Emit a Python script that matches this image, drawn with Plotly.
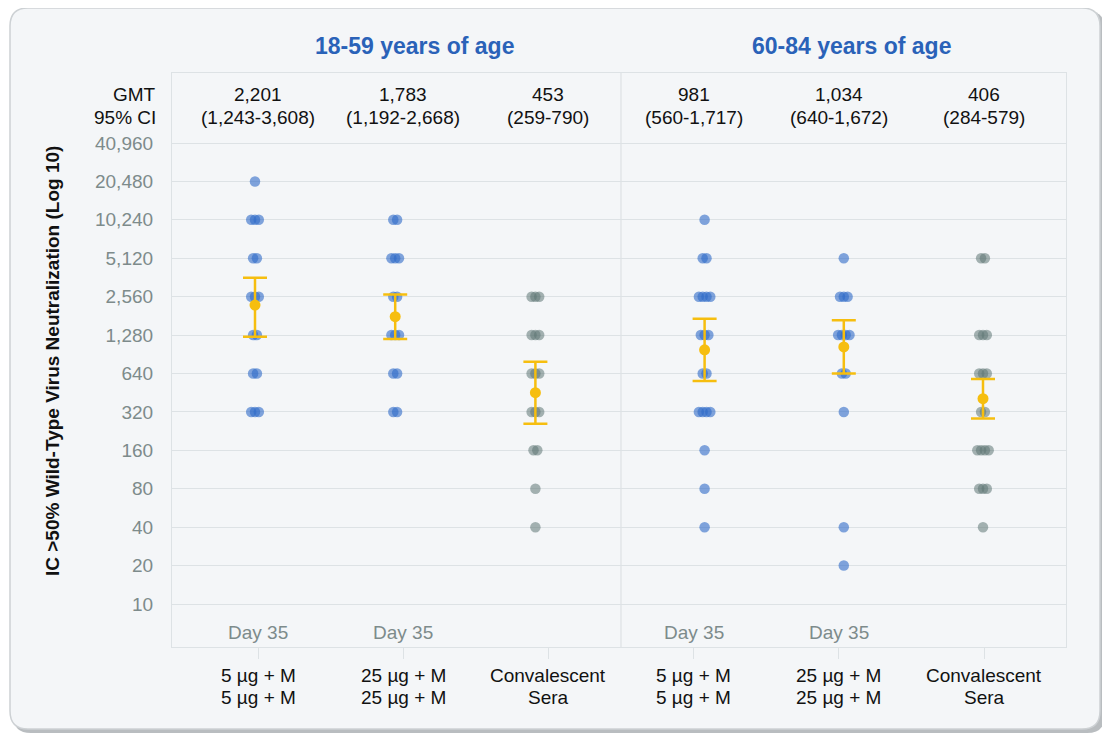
import plotly.graph_objects as go
import math

# ---------------- data ----------------
group_titles = ["18-59 years of age", "60-84 years of age"]
cat_line1 = ["5 µg + M", "25 µg + M", "Convalescent", "5 µg + M", "25 µg + M", "Convalescent"]
cat_line2 = ["5 µg + M", "25 µg + M", "Sera", "5 µg + M", "25 µg + M", "Sera"]
visit_labels = ["Day 35", "Day 35", "", "Day 35", "Day 35", ""]
is_convalescent = [False, False, True, False, False, True]

gmt = [2201, 1783, 453, 981, 1034, 406]
ci_low = [1243, 1192, 259, 560, 640, 284]
ci_high = [3608, 2668, 790, 1717, 1672, 579]
gmt_text = ["2,201", "1,783", "453", "981", "1,034", "406"]
ci_text = ["(1,243-3,608)", "(1,192-2,668)", "(259-790)", "(560-1,717)", "(640-1,672)", "(284-579)"]

titers_18_59_5ug = [20480, 10240, 10240, 10240, 5120, 5120, 2560, 2560, 2560,
                    1280, 1280, 640, 640, 320, 320, 320]
titers_18_59_25ug = [10240, 10240, 5120, 5120, 5120, 2560, 2560, 1280, 1280, 1280,
                     640, 640, 320, 320]
titers_18_59_conv = [2560, 2560, 2560, 1280, 1280, 1280, 640, 640, 640, 320, 320, 320,
                     160, 160, 80, 40]
titers_60_84_5ug = [10240, 5120, 5120, 2560, 2560, 2560, 2560, 1280, 1280, 1280,
                    640, 640, 320, 320, 320, 320, 160, 80, 40]
titers_60_84_25ug = [5120, 2560, 2560, 2560, 1280, 1280, 1280, 1280, 640, 640, 320, 40, 20]
titers_60_84_conv = [5120, 5120, 1280, 1280, 1280, 640, 640, 640, 320, 320,
                     160, 160, 160, 160, 80, 80, 80, 40]
columns = [titers_18_59_5ug, titers_18_59_25ug, titers_18_59_conv,
           titers_60_84_5ug, titers_60_84_25ug, titers_60_84_conv]

y_tick_vals = [10, 20, 40, 80, 160, 320, 640, 1280, 2560, 5120, 10240, 20480, 40960]
y_tick_text = ["10", "20", "40", "80", "160", "320", "640", "1,280", "2,560", "5,120",
               "10,240", "20,480", "40,960"]

# ---------------- layout geometry (reference pixel space) ----------------
PAGE = 8                 # default body margin of the html page
W, H = 1110 - PAGE, 734 - PAGE
PL, PR, PT, PB = 172, 1066, 73, 647       # plot area in window px
ML, MR, MT, MB = PL - PAGE, (W + PAGE) - PR, PT - PAGE, (H + PAGE) - PB
PW, PH = PR - PL, PB - PT
col_px = 145.2           # px per category slot
first_col_px = 258       # px of first category centre
col_shift_px = [-3, -8, -13, 11, 5, -1]   # small visual offset of the data columns
jitter_px = 3.8

x_lo = (PL - first_col_px) / col_px
x_hi = (PR - first_col_px) / col_px

# y: log axis, 40,960 gridline at py=143, 10 at py=604
ppd = (604 - 143) / 12.0
y_lo = 10 / 2 ** ((PB - 604) / ppd)
y_hi = 40960 * 2 ** ((143 - PT) / ppd)


def px_x(px):
    return (px - PL) / PW


def px_y(py):
    return (PB - py) / PH


BLUE = "rgba(47,107,200,0.6)"
GREY = "rgba(95,118,117,0.55)"
GOLD = "#f6be0f"
GRID = "#dde2e5"
TXT_GREY = "#7d8b8b"
TITLE_BLUE = "#2a62b8"
FONT = "Liberation Sans, Arial, Helvetica, sans-serif"

fig = go.Figure()

# individual titres with simple centred jitter
for i, vals in enumerate(columns):
    xs, ys = [], []
    counts = {}
    for v in vals:
        counts[v] = counts.get(v, 0) + 1
    seen = {}
    for v in vals:
        n = counts[v]
        k = seen.get(v, 0)
        seen[v] = k + 1
        off = (k - (n - 1) / 2.0) * jitter_px
        xs.append(i + (col_shift_px[i] + off) / col_px)
        ys.append(v)
    fig.add_trace(go.Scatter(
        x=xs, y=ys, mode="markers",
        marker=dict(size=10.5, color=GREY if is_convalescent[i] else BLUE, line=dict(width=0)),
        showlegend=False, hoverinfo="y"))

# GMT with 95% CI
fig.add_trace(go.Scatter(
    x=[i + col_shift_px[i] / col_px for i in range(len(gmt))],
    y=gmt, mode="markers",
    marker=dict(size=11, color=GOLD),
    error_y=dict(type="data", symmetric=False,
                 array=[h - g for h, g in zip(ci_high, gmt)],
                 arrayminus=[g - l for g, l in zip(gmt, ci_low)],
                 color=GOLD, thickness=2.5, width=12),
    showlegend=False, hoverinfo="y"))


# ---------------- background box ----------------
def rounded_path(x0, y0, x1, y1, r):
    X = px_x
    Y = px_y
    p = f"M {X(x0 + r)} {Y(y0)} L {X(x1 - r)} {Y(y0)} Q {X(x1)} {Y(y0)} {X(x1)} {Y(y0 + r)} "
    p += f"L {X(x1)} {Y(y1 - r)} Q {X(x1)} {Y(y1)} {X(x1 - r)} {Y(y1)} "
    p += f"L {X(x0 + r)} {Y(y1)} Q {X(x0)} {Y(y1)} {X(x0)} {Y(y1 - r)} "
    p += f"L {X(x0)} {Y(y0 + r)} Q {X(x0)} {Y(y0)} {X(x0 + r)} {Y(y0)} Z"
    return p


shapes = [
    dict(type="path", xref="paper", yref="paper", path=rounded_path(13, 11, 1105, 733, 18),
         fillcolor="#b9bdc0", line=dict(width=0), layer="below"),
    dict(type="path", xref="paper", yref="paper", path=rounded_path(10, 8, 1100, 729, 18),
         fillcolor="#f4f6f8", line=dict(color="#cdd1d4", width=1.5), layer="below"),
    dict(type="line", xref="x", yref="paper", x0=2.5, x1=2.5, y0=0, y1=1,
         line=dict(color=GRID, width=1.2), layer="below"),
]

annotations = []
title_px = [414, 851]
for gi, t in enumerate(group_titles):
    annotations.append(dict(text=f"<b>{t}</b>", x=px_x(title_px[gi]), xref="paper", y=px_y(46), yref="paper",
                            showarrow=False, font=dict(size=23, color=TITLE_BLUE, family=FONT),
                            xanchor="center", yanchor="middle"))
annotations.append(dict(text="GMT", x=px_x(158), y=px_y(94), xref="paper", yref="paper",
                        showarrow=False, xanchor="right", yanchor="middle",
                        font=dict(size=19, color="#111", family=FONT)))
annotations.append(dict(text="95% CI", x=px_x(158), y=px_y(117), xref="paper", yref="paper",
                        showarrow=False, xanchor="right", yanchor="middle",
                        font=dict(size=19, color="#111", family=FONT)))
for i in range(len(gmt)):
    for txt, py in ((gmt_text[i], 94), (ci_text[i], 117)):
        annotations.append(dict(text=txt, x=i, xref="x", y=px_y(py), yref="paper",
                                showarrow=False, xanchor="center", yanchor="middle",
                                font=dict(size=19, color="#111", family=FONT)))
    if visit_labels[i]:
        annotations.append(dict(text=visit_labels[i], x=i, xref="x", y=px_y(632), yref="paper",
                                showarrow=False, xanchor="center", yanchor="middle",
                                font=dict(size=19, color=TXT_GREY, family=FONT)))
    for txt, py in ((cat_line1[i], 675), (cat_line2[i], 697)):
        annotations.append(dict(text=txt, x=i, xref="x", y=px_y(py), yref="paper",
                                showarrow=False, xanchor="center", yanchor="middle",
                                font=dict(size=19, color="#111", family=FONT)))
annotations.append(dict(text="<b>IC >50% Wild-Type Virus Neutralization (Log 10)</b>",
                        x=px_x(52), y=px_y(361), xref="paper", yref="paper", textangle=-90,
                        showarrow=False, xanchor="center", yanchor="middle",
                        font=dict(size=19, color="#111", family=FONT)))

fig.update_layout(
    width=W, height=H,
    margin=dict(l=ML, r=MR, t=MT, b=MB, pad=0, autoexpand=False),
    paper_bgcolor="white", plot_bgcolor="rgba(0,0,0,0)",
    font=dict(family=FONT, size=19, color="#111"),
    shapes=shapes, annotations=annotations,
    xaxis=dict(range=[x_lo, x_hi], tickvals=list(range(6)), showticklabels=False,
               ticks="outside", ticklen=11, tickcolor=GRID, tickwidth=1.2,
               showgrid=False, zeroline=False, showline=True, mirror=True,
               linecolor=GRID, linewidth=1.2, fixedrange=True),
    yaxis=dict(type="log", range=[math.log10(y_lo), math.log10(y_hi)],
               tickvals=y_tick_vals, ticktext=y_tick_text, ticks="",
               ticklabelstandoff=14,
               tickfont=dict(size=19, color=TXT_GREY, family=FONT),
               showgrid=True, gridcolor=GRID, gridwidth=1.2, zeroline=False,
               showline=True, mirror=True, linecolor=GRID, linewidth=1.2, fixedrange=True),
)

fig.write_html("out.html")
